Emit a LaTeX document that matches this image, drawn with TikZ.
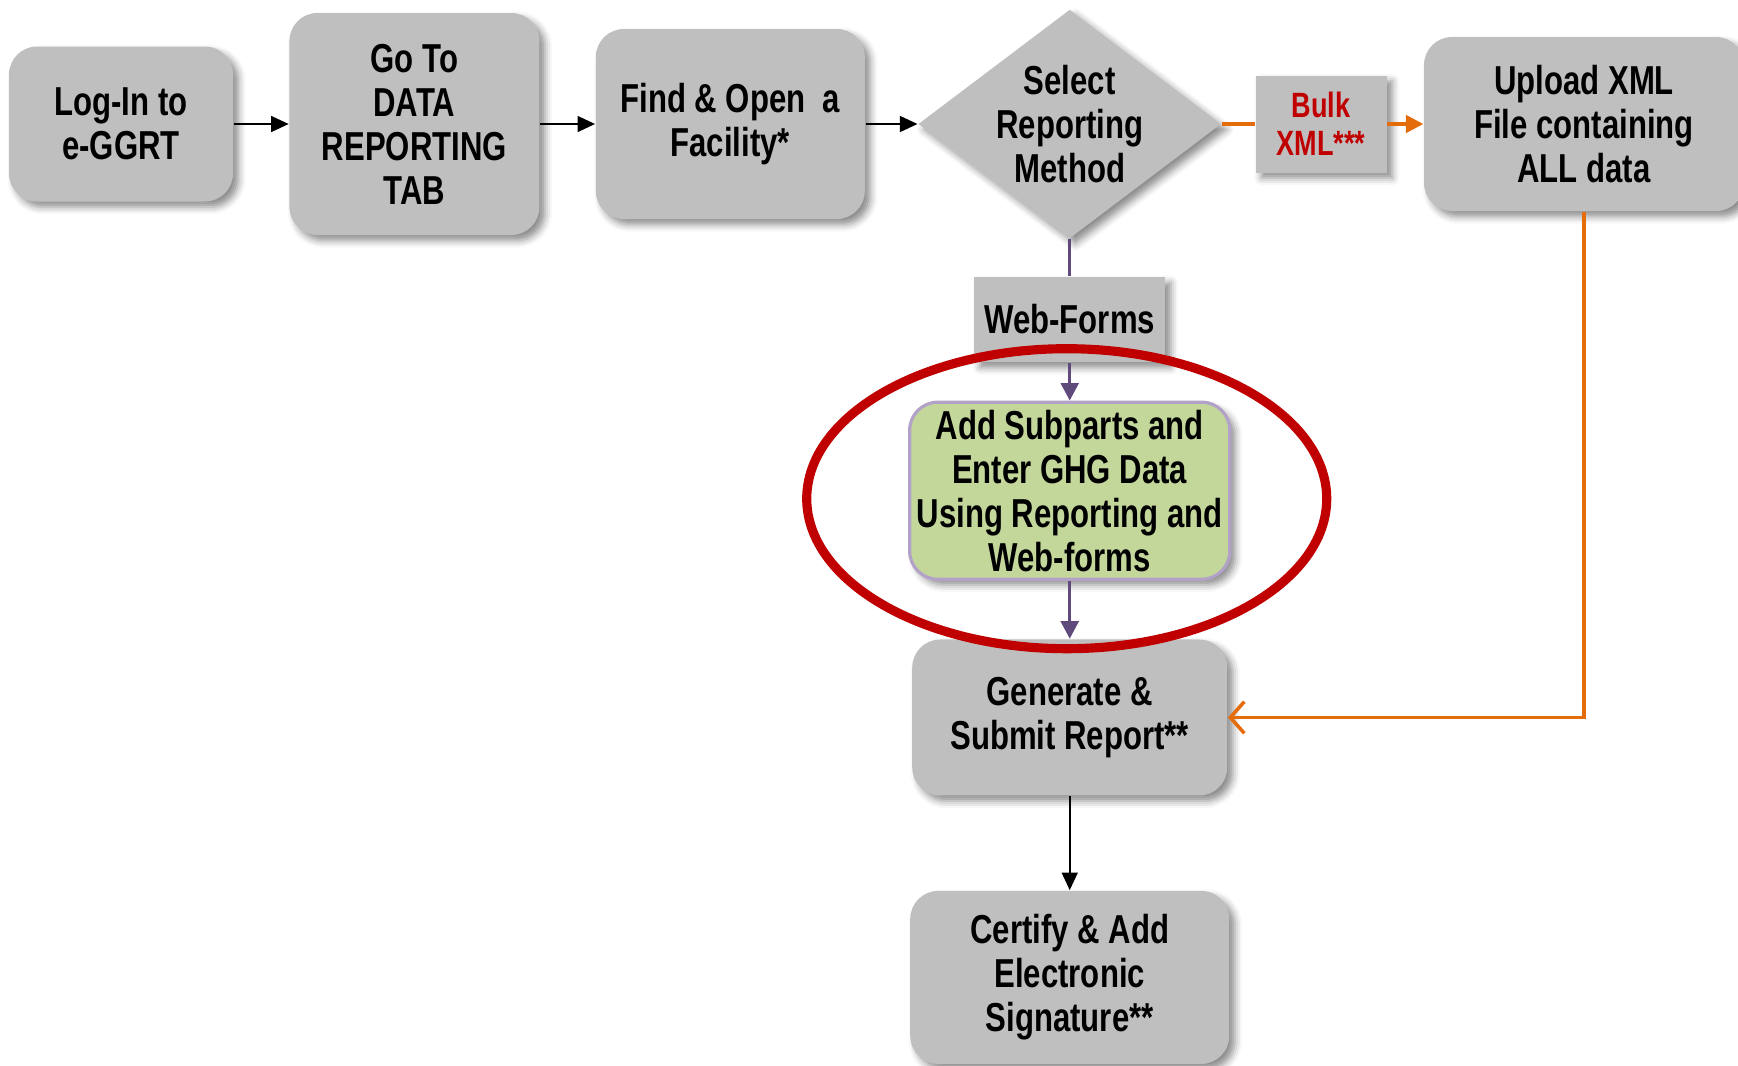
\documentclass[tikz,border=0pt]{standalone}
\usepackage{fontspec}
\setmainfont{Liberation Sans}[FakeStretch=0.77]
\usetikzlibrary{positioning,shapes.geometric,arrows.meta,shadows.blur}

\definecolor{boxgray}{RGB}{191,191,191}
\definecolor{formgreen}{RGB}{196,215,155}
\definecolor{formedge}{RGB}{179,162,199}
\definecolor{markred}{RGB}{192,0,0}
\definecolor{xmlorange}{RGB}{228,108,10}
\definecolor{webpurple}{RGB}{96,74,123}

\begin{document}
\begin{tikzpicture}[
    font=\bfseries\fontsize{11.5}{12.5}\selectfont,
    shade/.style={blur shadow={shadow xshift=1.6pt, shadow yshift=-1.6pt,
        shadow blur radius=2pt, shadow opacity=45}},
    stepbox/.style={shade, rectangle, rounded corners=0.28cm, fill=boxgray,
        align=center, inner sep=2pt},
    tagbox/.style={shade, rectangle, fill=boxgray, align=center, inner sep=2pt},
    choice/.style={shade, diamond, fill=boxgray, align=center, inner sep=-3pt,
        aspect=1.32, minimum width=3.03cm, minimum height=2.29cm},
    flow/.style={-{Triangle[length=5pt,width=4.5pt]}, line width=0.6pt},
    webflow/.style={draw=webpurple, line width=1pt},
    xmlflow/.style={draw=xmlorange, line width=1pt},
]
    \useasboundingbox (0,0) rectangle (17.38,-10.65);

    % top row
    \node[stepbox, minimum width=2.24cm, minimum height=1.55cm] (login) at (1.21,-1.24)
        {Log-In to\\e-GGRT};
    \node[stepbox, minimum width=2.50cm, minimum height=2.22cm, right=0.55cm of login] (gototab)
        {Go To\\DATA\\REPORTING\\TAB};
    \node[stepbox, minimum width=2.69cm, minimum height=1.90cm, right=0.55cm of gototab] (facility)
        {Find \& Open~~a\\Facility*};
    \node[choice, right=0.52cm of facility] (method)
        {Select\\Reporting\\Method};
    \node[tagbox, text=markred, font=\bfseries\fontsize{10}{10.8}\selectfont,
        minimum width=1.31cm, minimum height=0.97cm, right=0.33cm of method] (bulk)
        {Bulk\\XML***};
    \node[stepbox, minimum width=3.20cm, minimum height=1.74cm, right=0.36cm of bulk] (upload)
        {Upload XML\\File containing\\ALL data};

    % web-forms branch
    \node[tagbox, minimum width=1.91cm, minimum height=0.85cm, below=0.37cm of method] (webforms)
        {Web-Forms};
    \node[stepbox, fill=formgreen, draw=formedge, line width=0.9pt,
        minimum width=3.19cm, minimum height=1.77cm, below=0.38cm of webforms] (subparts)
        {Add Subparts and\\Enter GHG Data\\Using Reporting and\\Web-forms};
    \node[stepbox, minimum width=3.15cm, minimum height=1.56cm, below=0.58cm of subparts] (generate)
        {Generate \&\\Submit Report**};
    \node[stepbox, minimum width=3.19cm, minimum height=1.73cm, below=0.94cm of generate] (certify)
        {Certify \& Add\\Electronic\\Signature**};

    % connectors
    \draw[flow] (login) -- (gototab);
    \draw[flow] (gototab) -- (facility);
    \draw[flow] (facility) -- (method.west);
    \draw[xmlflow] (method.east) -- (bulk);
    \draw[xmlflow, -{Triangle[length=5pt,width=5pt]}] (bulk) -- (upload);
    \draw[xmlflow, -{Straight Barb[length=4pt,width=9pt]}] (upload.south) |- (generate.east);
    \draw[webflow] (method.south) -- (webforms.north);
    \draw[webflow, -{Triangle[length=5pt,width=5pt]}] (webforms) -- (subparts);
    \draw[webflow, -{Triangle[length=5pt,width=5pt]}] (subparts) -- (generate);
    \draw[flow] (generate) -- (certify);

    % highlight
    \node[ellipse, draw=markred, line width=2.6pt, minimum width=5.2cm, minimum height=3.0cm]
        (focus) at ([xshift=-0.03cm, yshift=-0.08cm]subparts.center) {};
\end{tikzpicture}
\end{document}
